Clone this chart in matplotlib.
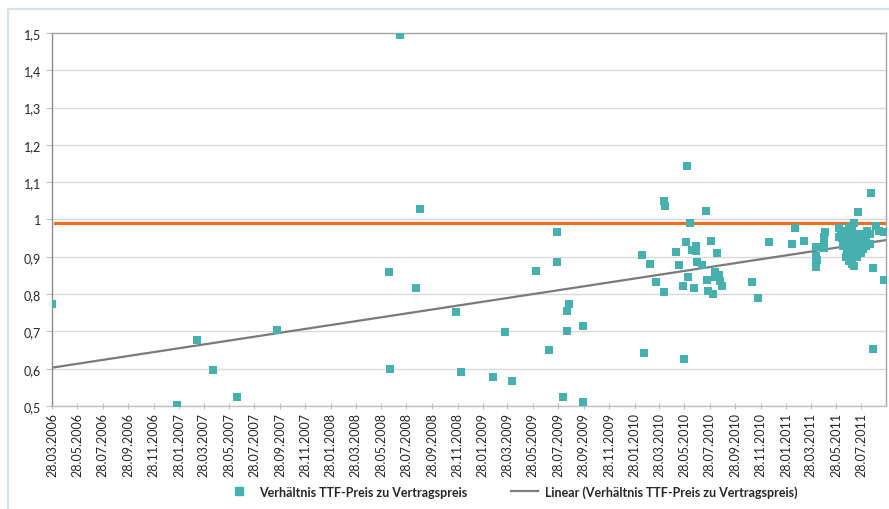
import matplotlib
matplotlib.use("Agg")
import matplotlib.pyplot as plt
import matplotlib.dates as mdates
from matplotlib.lines import Line2D
from matplotlib.patches import Rectangle
import numpy as np
import pandas as pd

plt.rcParams['font.family'] = ['Lato', 'DejaVu Sans']

# ---- data -------------------------------------------------------------
dates = [
    "2006-03-28", "2007-01-22", "2007-03-12", "2007-04-20", "2007-06-17", "2007-09-21",
    "2008-06-17", "2008-06-19", "2008-07-13", "2008-08-19", "2008-08-30", "2008-11-25",
    "2008-12-06", "2009-02-22", "2009-03-23", "2009-04-07", "2009-06-05", "2009-07-07",
    "2009-07-26", "2009-07-26", "2009-08-08", "2009-08-18", "2009-08-18", "2009-08-23",
    "2009-09-27", "2009-09-27",
    "2010-02-14", "2010-02-20", "2010-03-07", "2010-03-20", "2010-04-09", "2010-04-10",
    "2010-04-11", "2010-05-08", "2010-05-16", "2010-05-24", "2010-05-28", "2010-05-31",
    "2010-06-03", "2010-06-05", "2010-06-10", "2010-06-16", "2010-06-19", "2010-06-25",
    "2010-06-26", "2010-06-28", "2010-07-10", "2010-07-19", "2010-07-22", "2010-07-24",
    "2010-08-01", "2010-08-06", "2010-08-09", "2010-08-10", "2010-08-19", "2010-08-21",
    "2010-08-15", "2010-08-27", "2010-11-06", "2010-11-22", "2010-12-17",
    "2011-02-10", "2011-02-19", "2011-03-12",
    "2011-04-10", "2011-04-10", "2011-04-11", "2011-04-10", "2011-04-09",
    "2011-04-29", "2011-04-30", "2011-05-01", "2011-04-28",
    "2011-06-03", "2011-06-05", "2011-06-10",
    "2011-06-12", "2011-06-12", "2011-06-13",
    "2011-06-22", "2011-06-22", "2011-06-23", "2011-06-22",
    "2011-06-29", "2011-06-29", "2011-06-30", "2011-06-29", "2011-06-28",
    "2011-07-06", "2011-07-06", "2011-07-05", "2011-07-06", "2011-07-07", "2011-07-06",
    "2011-07-11", "2011-07-11", "2011-07-12", "2011-07-11", "2011-07-11",
    "2011-07-18", "2011-07-18", "2011-07-19", "2011-07-18",
    "2011-07-25", "2011-07-25", "2011-07-26",
    "2011-08-01", "2011-08-01", "2011-08-02",
    "2011-08-09", "2011-08-09", "2011-08-10",
    "2011-08-18", "2011-08-18",
    "2011-07-19", "2011-08-19", "2011-08-24", "2011-08-24", "2011-09-01",
    "2011-09-08", "2011-09-21", "2011-09-21",
]
ratio = [
    0.773, 0.503, 0.676, 0.597, 0.524, 0.704,
    0.858, 0.599, 1.495, 0.816, 1.028, 0.753,
    0.592, 0.577, 0.698, 0.567, 0.862, 0.651,
    0.967, 0.887, 0.524, 0.756, 0.701, 0.773,
    0.715, 0.510,
    0.905, 0.643, 0.880, 0.833, 0.805, 1.050,
    1.035, 0.913, 0.877, 0.822, 0.627, 0.939,
    1.144, 0.846, 0.991, 0.917, 0.816, 0.928,
    0.916, 0.887, 0.879, 1.024, 0.839, 0.809,
    0.942, 0.800, 0.858, 0.847, 0.851, 0.836,
    0.909, 0.822, 0.833, 0.789, 0.940,
    0.934, 0.977, 0.942,
    0.925, 0.901, 0.892, 0.881, 0.872,
    0.943, 0.954, 0.966, 0.924,
    0.977, 0.952, 0.966,
    0.960, 0.950, 0.930,
    0.970, 0.940, 0.920, 0.900,
    0.980, 0.950, 0.930, 0.910, 0.890,
    0.970, 0.960, 0.940, 0.920, 0.900, 0.880,
    0.990, 0.950, 0.930, 0.910, 0.875,
    0.960, 0.940, 0.920, 0.900,
    0.950, 0.930, 0.910,
    0.960, 0.940, 0.920,
    0.950, 0.930, 0.970,
    0.960, 0.935,
    1.021, 1.070, 0.869, 0.653, 0.982,
    0.970, 0.839, 0.966,
]
reference_level = 0.99
x_start = "2006-03-28"
x_end = "2011-09-25"
tick_dates = pd.date_range("2006-03-01", "2011-07-01", freq="2MS") + pd.Timedelta(days=27)
y_ticks = [0.5, 0.6, 0.7, 0.8, 0.9, 1.0, 1.1, 1.2, 1.3, 1.4, 1.5]

series_label = "Verhältnis TTF-Preis zu Vertragspreis"
trend_label = "Linear (Verhältnis TTF-Preis zu Vertragspreis)"

# ---- plot -------------------------------------------------------------
teal = "#46b0af"
orange = "#ee6d21"
trend_gray = "#7a7a7a"
text_col = "#262626"

fig = plt.figure(figsize=(8.89, 5.10), dpi=100)
fig.patch.set_facecolor("white")
fig.patches.append(Rectangle((0.009, -0.05), 1.2, 1.03, transform=fig.transFigure,
                             fill=False, edgecolor="#d5e2ea", linewidth=1.6, zorder=0))

ax = fig.add_axes([0.0585, 0.202, 0.938, 0.7313])

x = mdates.date2num(pd.to_datetime(dates))
y = np.array(ratio)
x0 = mdates.date2num(pd.Timestamp(x_start))
x1 = mdates.date2num(pd.Timestamp(x_end))

ax.set_xlim(x0, x1)
ax.set_ylim(0.5, 1.5)

for v in y_ticks:
    ax.axhline(v, color="#d9d9d9", linewidth=1.0, zorder=0)

ax.axhline(reference_level, color=orange, linewidth=2.3, zorder=2,
           xmin=0.003, xmax=1.0)

coef = np.polyfit(x - x0, y, 1)
tx = np.array([x0, x1])
ax.plot(tx, np.polyval(coef, tx - x0), color=trend_gray, linewidth=1.6, zorder=3)

ax.scatter(x, y, marker="s", s=28, color=teal, linewidths=0, zorder=4)

ax.set_xticks(mdates.date2num(tick_dates))
ax.xaxis.set_major_formatter(mdates.DateFormatter("%d.%m.%Y"))
ax.set_yticks(y_ticks)
ax.set_yticklabels([("%g" % v).replace(".", ",") for v in y_ticks])

for lab in ax.get_xticklabels():
    lab.set_rotation(90)
ax.tick_params(axis="x", labelsize=9, length=4, direction="inout",
               width=0.8, color="#bfbfbf", pad=2)
ax.tick_params(axis="y", labelsize=9, length=4, direction="out",
               width=0.8, color="#bfbfbf", pad=4)
for lab in ax.get_xticklabels() + ax.get_yticklabels():
    lab.set_color(text_col)

ax.spines["left"].set_color("#8c8c8c")
ax.spines["bottom"].set_color("#bfbfbf")
ax.spines["top"].set_color("#a6a6a6")
ax.spines["right"].set_color("#a6a6a6")
for s in ax.spines.values():
    s.set_linewidth(1.0)

handles = [
    Line2D([], [], marker="s", linestyle="none", color=teal, markersize=5.5),
    Line2D([], [], color=trend_gray, linewidth=1.6),
]
leg = fig.legend(handles, [series_label, trend_label], loc="lower center",
                 bbox_to_anchor=(0.575, 0.0), ncol=2, frameon=False,
                 prop={"weight": "bold", "size": 9}, handlelength=2.2,
                 columnspacing=3.5, handletextpad=0.5)
for t in leg.get_texts():
    t.set_color(text_col)

fig.savefig("out.png", dpi=100, facecolor="white")
